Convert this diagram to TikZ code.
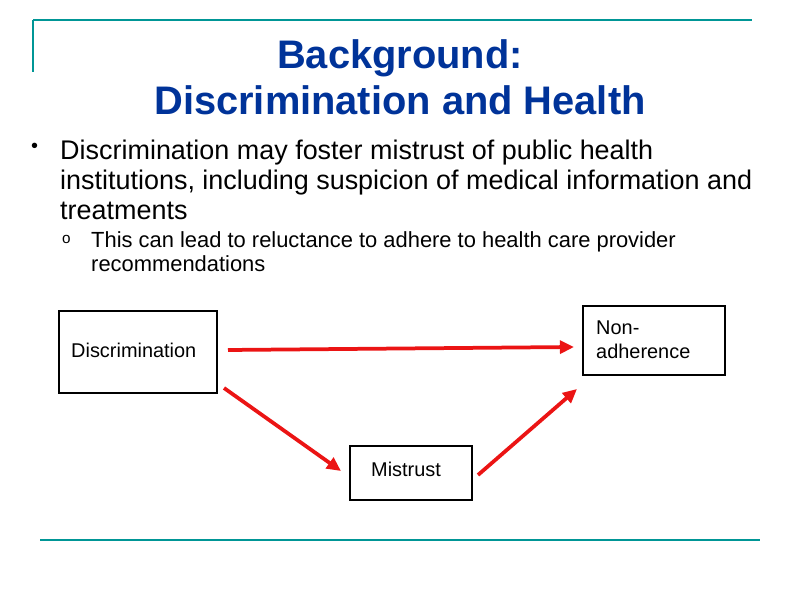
\documentclass[tikz,border=0pt]{standalone}
\usepackage{fontspec}
\setmainfont{Liberation Sans}
\usetikzlibrary{arrows.meta}
\definecolor{teal1}{RGB}{0,150,150}
\definecolor{title}{RGB}{0,51,153}
\definecolor{redA}{RGB}{235,20,20}
\begin{document}
\begin{tikzpicture}[x=0.03cm,y=-0.03cm,
  box/.style={draw=black,line width=2.5pt},
  txt/.style={anchor=west,inner sep=0pt,align=left,font=\fontsize{17}{20.5}\selectfont},
  arr/.style={draw=redA,line width=3.2pt,-{Triangle[length=12pt,width=11pt]}}]
\useasboundingbox (0,0) rectangle (800,600);
\draw[teal1,line width=1.2pt] (33,20) -- (752,20);
\draw[teal1,line width=1.2pt] (33,20) -- (33,72);
\draw[teal1,line width=1.2pt] (40,540) -- (760,540);
\node[title,font=\bfseries\fontsize{34}{39}\selectfont,align=center] (t) at (400,77) {Background:\\Discrimination and Health};
\node[anchor=north west,inner sep=0pt,font=\fontsize{17}{26}\selectfont] (b) at (31,143) {•};
\node[anchor=north west,inner sep=0pt,align=left,font=\fontsize{23}{25.5}\selectfont] (bt) at (60,140) {Discrimination may foster mistrust of public health\\institutions, including suspicion of medical information and\\treatments};
\node[anchor=north west,inner sep=0pt,font=\fontsize{13}{20}\selectfont] (s) at (62,235) {o};
\node[anchor=north west,inner sep=0pt,align=left,font=\fontsize{18.7}{21}\selectfont] (st) at (91,231) {This can lead to reluctance to adhere to health care provider\\recommendations};
\draw[box] (59,311) rectangle (217,393);
\draw[box] (583,306) rectangle (725,375);
\draw[box] (350,446) rectangle (472,500);
\node[txt] (d) at (71,350) {Discrimination};
\node[txt] (n) at (596,340) {Non-\\adherence};
\node[txt] (m) at (371,469) {Mistrust};
\coordinate (a1) at (228,350); \coordinate (a2) at (574,347);
\coordinate (b1) at (224,388); \coordinate (b2) at (341,471);
\coordinate (c1) at (478,475); \coordinate (c2) at (577,389);
\draw[arr] (a1) -- (a2);
\draw[arr] (b1) -- (b2);
\draw[arr] (c1) -- (c2);
\end{tikzpicture}
\end{document}
